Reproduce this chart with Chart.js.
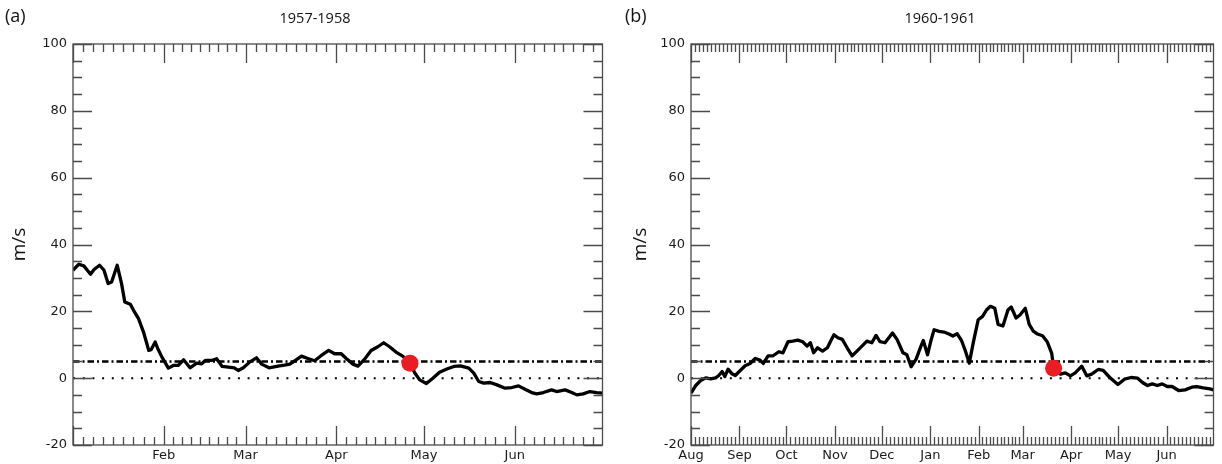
<!DOCTYPE html>
<html>
<head>
<meta charset="utf-8">
<script src="https://cdn.jsdelivr.net/npm/chart.js@4.4.1/dist/chart.umd.min.js"></script>
<style>
  html, body { margin: 0; padding: 0; background: #fff; }
  canvas { position: absolute; top: 0; }
  #chartA { left: 0; }
  #chartB { left: 611px; }
</style>
</head>
<body>
<canvas id="chartA" width="611" height="464"></canvas>
<canvas id="chartB" width="611" height="464"></canvas>
<script>
/* zonal wind, m/s; x is days since the start of each window */

// 1957-1958: Jan 1 .. Jun 30
const monthDaysA = [0, 31, 59, 90, 120, 151, 181];
const labelDaysA = [31, 59, 90, 120, 151];
const labelNamesA = ["Feb", "Mar", "Apr", "May", "Jun"];
const daysA = [
  0, 2, 3.7, 6, 7.2, 9.1, 10.6, 12, 13.2, 15.1, 16.6, 17.7, 19.6, 20.7, 22.4,
  24.1, 25.9, 26.7, 28.1, 29, 30.4, 32.6, 34.3, 36, 37.8, 40, 42.3, 44, 45.2,
  47.4, 49.1, 51, 53.1, 55.1, 56.5, 58.2, 60.4, 62.7, 64.5, 67, 70.1, 72.3,
  74.1, 75.8, 78.1, 80.3, 82.6, 84.9, 87.4, 89.4, 91.7, 93.4, 95.7, 97.4,
  99.7, 101.9, 104.2, 106.2, 108.2, 110.4, 112.7, 115.2, 116.8, 118.5, 120.8,
  123, 125.3, 128, 130.2, 132.4, 135.3, 137, 138.7, 140.4, 142.6, 144.9,
  147.7, 150, 152.3, 154.5, 156.8, 158.5, 160.8, 163.6, 165.3, 168.2, 170.5,
  172.2, 174.4, 176.7, 179, 181,
];
const windA = [
  32.3, 34.1, 33.6, 31.1, 32.5, 33.8, 32.3, 28.3, 28.8, 33.8, 28.3, 22.8, 22.1,
  20.3, 17.8, 13.8, 8.3, 8.5, 10.8, 8.8, 6.3, 3.0, 3.8, 3.8, 5.5, 3.1, 4.5,
  4.3, 5.3, 5.3, 5.8, 3.5, 3.3, 3.1, 2.3, 3.1, 4.8, 6.1, 4.2, 3.1, 3.6, 3.9,
  4.2, 5.2, 6.6, 5.9, 5.2, 6.8, 8.3, 7.3, 7.3, 5.9, 4.2, 3.6, 5.7, 8.3, 9.4,
  10.6, 9.4, 7.8, 6.6, 4.5, 1.6, -0.5, -1.6, 0, 1.8, 2.8, 3.5, 3.7, 3.0, 1.5,
  -1.0, -1.5, -1.3, -2.0, -3.0, -2.8, -2.3, -3.3, -4.3, -4.7, -4.3, -3.5,
  -4.0, -3.5, -4.3, -5.0, -4.7, -4.0, -4.3, -4.5,
];
const onsetA = [115.2, 4.5];

// 1960-1961: Aug 1 .. Jun 30
const monthDaysB = [0, 31, 61, 92, 122, 153, 184, 212, 243, 273, 304, 334];
const labelDaysB = [0, 31, 61, 92, 122, 153, 184, 212, 243, 273, 304];
const labelNamesB = ["Aug", "Sep", "Oct", "Nov", "Dec", "Jan", "Feb", "Mar", "Apr", "May", "Jun"];
const daysB = [
  0, 3, 6.2, 9.4, 12.6, 15.7, 17.8, 19.9, 21.6, 23.7, 26.2, 28.3, 31.5, 34.6,
  37.8, 41, 44.1, 46.2, 49.3, 52.5, 56.1, 58.8, 62, 65.1, 68.3, 71.4, 74.2,
  76.3, 78.4, 80.9, 84.1, 87.2, 89.3, 91.4, 93.9, 96.7, 99.8, 103, 106.1,
  109.3, 112.4, 115.6, 118.3, 120.8, 124, 128.8, 131.7, 135.5, 138, 140.7,
  143.9, 147, 148.5, 151.2, 153.3, 155.4, 158.6, 161.7, 164.9, 167.4, 170.1,
  173, 175.2, 177.9, 180.5, 183.6, 186.4, 188.9, 191.4, 194.2, 196.3, 199.4,
  202.6, 204.7, 207.8, 210.3, 213.7, 216.2, 218.8, 221.5, 224.7, 227.8,
  230.6, 231.8, 236.2, 239.3, 242.5, 245.6, 249.8, 253, 256.1, 260.3, 263.5,
  267.7, 272.9, 277.1, 281.3, 285.5, 288.6, 291.8, 294.9, 298.1, 301.2,
  304.4, 307.5, 311.7, 315.9, 320.1, 323.3, 327.5, 331.7, 334,
];
const windB = [
  -4.5, -2.2, -0.7, 0.1, -0.2, 0.1, 0.8, 2.0, 0.5, 2.7, 1.3, 0.8, 2.3, 3.7,
  4.4, 5.9, 5.4, 4.4, 6.7, 6.7, 7.9, 7.6, 10.9, 11.1, 11.4, 10.9, 9.6, 10.6,
  7.6, 9.1, 8.1, 9.1, 11.1, 13.0, 12.1, 11.6, 9.1, 6.7, 8.1, 9.6, 11.1, 10.6,
  12.8, 10.9, 10.6, 13.5, 11.6, 7.6, 7.0, 3.4, 5.7, 9.6, 11.3, 7.0, 11.1,
  14.5, 14.0, 13.8, 13.2, 12.6, 13.3, 11.2, 8.4, 4.5, 10.8, 17.5, 18.5, 20.4,
  21.5, 20.9, 16.1, 15.6, 20.4, 21.3, 18.0, 18.9, 20.9, 16.1, 14.1, 13.2,
  12.7, 10.8, 7.4, 3.0, 1.2, 1.6, 0.7, 1.6, 3.6, 0.7, 1.2, 2.6, 2.3, 0.2,
  -1.9, -0.3, 0.2, 0, -1.3, -2.2, -1.7, -2.2, -1.7, -2.5, -2.5, -3.7, -3.5,
  -2.7, -2.5, -2.9, -3.2, -3.5,
];
const onsetB = [231.8, 3.0];

const threshold = 5;
const yTicks = [-20, 0, 20, 40, 60, 80, 100];

// box round the plot area with inward ticks on all four sides
const frameTicks = {
  id: "frameTicks",
  afterDatasetsDraw(chart, args, opts) {
    const { ctx, chartArea: a, scales: { x, y } } = chart;
    ctx.save();
    ctx.strokeStyle = "#4a4a4a";
    ctx.lineWidth = 1.3;
    ctx.beginPath();
    for (let v = y.min; v <= y.max; v += 5) {
      const py = Math.round(y.getPixelForValue(v)) + 0.5;
      const len = v % 20 === 0 ? 19 : 9;
      ctx.moveTo(a.left, py);
      ctx.lineTo(a.left + len, py);
      ctx.moveTo(a.right, py);
      ctx.lineTo(a.right - len, py);
    }
    const m = opts.months;
    for (let i = 0; i < m.length - 1; i += 1) {
      for (let k = 0; k < opts.sub; k += 1) {
        const v = m[i] + ((m[i + 1] - m[i]) * k) / opts.sub;
        const px = Math.round(x.getPixelForValue(v)) + 0.5;
        const len = k === 0 ? 19 : 8;
        ctx.moveTo(px, a.bottom);
        ctx.lineTo(px, a.bottom - len);
        ctx.moveTo(px, a.top);
        ctx.lineTo(px, a.top + len);
      }
    }
    ctx.stroke();
    ctx.strokeRect(a.left, a.top, a.right - a.left, a.bottom - a.top);
    ctx.restore();
  },
};

// panel letter and season heading
const panelText = {
  id: "panelText",
  afterDraw(chart, args, opts) {
    const { ctx } = chart;
    ctx.save();
    ctx.fillStyle = "#111";
    ctx.textBaseline = "middle";
    ctx.textAlign = "left";
    ctx.font = "18px 'Open Sans'";
    ctx.fillText(opts.tag, opts.tagX, 17);
    ctx.textAlign = "center";
    ctx.font = "14.5px 'Open Sans'";
    ctx.fillText(opts.title, opts.titleX, 19);
    ctx.restore();
  },
};

const tickFont = { family: "DejaVu Sans", size: 13 };

function makePanel(canvasId, p) {
  const xMax = p.months[p.months.length - 1];
  const ctx = document.getElementById(canvasId).getContext("2d");
  return new Chart(ctx, {
    type: "line",
    data: {
      datasets: [
        {
          label: "onset",
          data: [{ x: p.onset[0], y: p.onset[1] }],
          showLine: false,
          pointRadius: 8.5,
          pointBackgroundColor: "#ec1c24",
          pointBorderWidth: 0,
          order: 0,
        },
        {
          label: "wind",
          data: p.days.map((d, i) => ({ x: d, y: p.wind[i] })),
          borderColor: "#000",
          borderWidth: 3.3,
          pointRadius: 0,
          borderJoinStyle: "round",
          order: 1,
        },
        {
          label: "threshold",
          data: [{ x: 0, y: threshold }, { x: xMax, y: threshold }],
          borderColor: "#000",
          borderWidth: 2.5,
          borderDash: [6.5, 3, 2, 3],
          pointRadius: 0,
          order: 2,
        },
        {
          label: "zero",
          data: [{ x: 0, y: 0 }, { x: xMax, y: 0 }],
          borderColor: "#000",
          borderWidth: 2,
          borderDash: [2, 7.7],
          pointRadius: 0,
          order: 3,
        },
      ],
    },
    options: {
      responsive: false,
      animation: false,
      layout: { padding: { top: 44, right: p.padRight, left: 0, bottom: 0 } },
      plugins: {
        legend: { display: false },
        tooltip: { enabled: false },
        frameTicks: { months: p.months, sub: p.sub },
        panelText: { tag: p.tag, tagX: p.tagX, title: p.title, titleX: p.titleX },
      },
      scales: {
        x: {
          type: "linear",
          min: 0,
          max: xMax,
          grid: { display: false, drawTicks: false },
          border: { display: false },
          afterBuildTicks: (s) => { s.ticks = p.labelDays.map((v) => ({ value: v })); },
          afterFit: (s) => { s.height = 19; },
          ticks: {
            autoSkip: false,
            maxRotation: 0,
            padding: 3,
            color: "#1a1a1a",
            font: tickFont,
            callback: (v) => p.labelNames[p.labelDays.indexOf(v)],
          },
        },
        y: {
          min: -20,
          max: 100,
          grid: { display: false, drawTicks: false },
          border: { display: false },
          afterBuildTicks: (s) => { s.ticks = yTicks.map((v) => ({ value: v })); },
          afterFit: (s) => { s.width = p.axisWidth; },
          ticks: { padding: 6, color: "#1a1a1a", font: tickFont },
          title: {
            display: true,
            text: "m/s",
            color: "#111",
            font: { family: "Open Sans", size: 19 },
            padding: { top: p.titlePad, bottom: 0 },
          },
        },
      },
    },
    plugins: [frameTicks, panelText],
  });
}

makePanel("chartA", {
  months: monthDaysA, sub: 9, labelDays: labelDaysA, labelNames: labelNamesA,
  days: daysA, wind: windA, onset: onsetA,
  axisWidth: 73, padRight: 8, titlePad: 8,
  tag: "(a)", tagX: 5, title: "1957-1958", titleX: 315,
});

makePanel("chartB", {
  months: monthDaysB, sub: 12, labelDays: labelDaysB, labelNames: labelNamesB,
  days: daysB, wind: windB, onset: onsetB,
  axisWidth: 80, padRight: 2, titlePad: 18,
  tag: "(b)", tagX: 14, title: "1960-1961", titleX: 329,
});
</script>
</body>
</html>
